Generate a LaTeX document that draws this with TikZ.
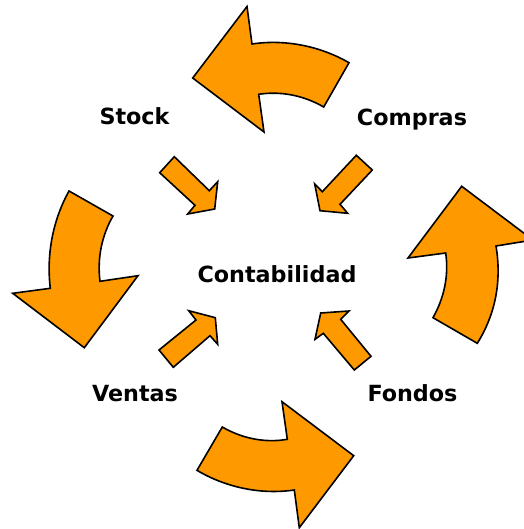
\documentclass[tikz,border=0pt]{standalone}
\usepackage{fontspec}
\setmainfont{DejaVu Sans}
\definecolor{arroworange}{HTML}{FF9900}
\tikzset{
  arrowshape/.style={draw=black,fill=arroworange,line width=1.2pt,line join=miter},
  smallarrow/.style={arrowshape},
  lbl/.style={font=\fontsize{16.7pt}{20pt}\selectfont\bfseries,text=black,inner sep=0pt,anchor=base}
}
\begin{document}
\begin{tikzpicture}[x=0.75pt,y=-0.75pt]
\useasboundingbox (0,0) rectangle (524,529);
% large curved arrows
\draw[arrowshape] (247,6.5) -- (252,44) .. controls (285,39) and (320,46) .. (349,62.7) -- (323.7,107) .. controls (303,95) and (280,91) .. (258.7,94.3) -- (264,132) -- (192.7,78) -- cycle;
\draw[arrowshape] (69,191) -- (113,216) .. controls (102,235) and (97,258) .. (100,281.3) -- (138,275.7) -- (84.3,347.7) -- (12.7,293.3) -- (50.3,288.3) .. controls (46,252) and (54,218) .. (69,191) -- cycle;
\draw[arrowshape] (222.3,427) .. controls (243,439) and (266,443) .. (287.3,439.3) -- (282,401.7) -- (353.7,455.7) -- (299.3,527.7) -- (294.3,490) .. controls (260,495) and (225,487) .. (197,470.3) -- cycle;
\draw[arrowshape] (461.7,186.3) -- (533,240) -- (496,246) .. controls (502,282) and (495,315) .. (477.3,343.3) -- (433,317.7) .. controls (444,298) and (449,276) .. (445.7,253) -- (408,258) -- cycle;
% small straight arrows
\draw[smallarrow] (174.3,156.7) -- (209.3,190.7) -- (217.7,181.7) -- (214.7,209) -- (187.7,214) -- (195,205.3) -- (159.7,172.7) -- cycle;
\draw[smallarrow] (356.3,155.3) -- (372.3,170) -- (340,204.3) -- (347.7,213.3) -- (320,210.7) -- (314.7,184) -- (322.3,191.7) -- cycle;
\draw[smallarrow] (159,350) -- (173.3,367.3) -- (210,335.7) -- (217.7,344.3) -- (215.3,317.7) -- (188.7,310.7) -- (196,320) -- cycle;
\draw[smallarrow] (371,356.3) -- (354.3,370) -- (323.3,333.3) -- (315,339.3) -- (320.7,313) -- (349,311) -- (340.7,319.3) -- cycle;
% labels
\node[lbl] (stock) at (134.5,124.5) {Stock};
\node[lbl] (compras) at (412,125) {Compras};
\node[lbl] (conta) at (277,282.5) {Contabilidad};
\node[lbl] (ventas) at (135,401) {Ventas};
\node[lbl] (fondos) at (412.5,401) {Fondos};
\end{tikzpicture}
\end{document}
